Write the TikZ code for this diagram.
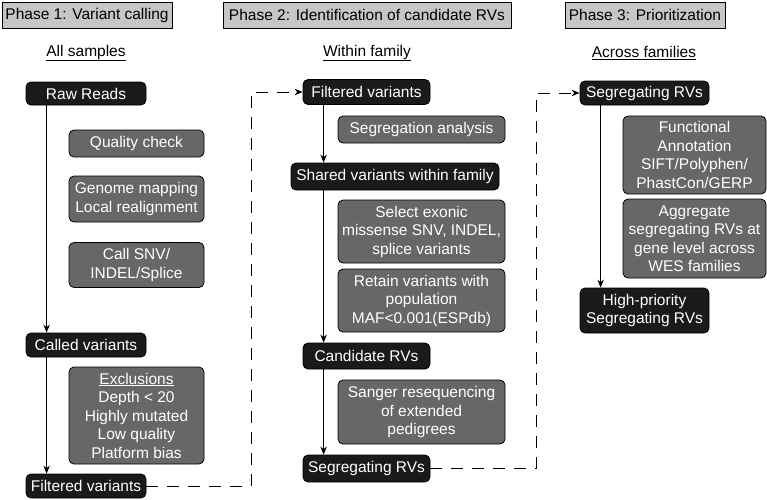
\documentclass[tikz,border=0pt]{standalone}
\usepackage{fontspec}
\setmainfont{Liberation Sans}
\usetikzlibrary{arrows.meta}
\definecolor{hdrgray}{HTML}{C6C6C6}
\definecolor{boxgray}{HTML}{676767}
\definecolor{boxblack}{HTML}{1A1A1A}
\begin{document}
\begin{tikzpicture}[>={Stealth[length=8pt,width=6.5pt]},x=1pt,y=-1pt,
	every node/.style={font=\fontsize{15.5}{18.5}\selectfont,inner sep=0pt,align=center},
	phase/.style={draw,fill=hdrgray,line width=0.9pt},
	blk/.style={draw,fill=boxblack,text=white,rounded corners=5pt,line width=0.8pt},
	gry/.style={draw,fill=boxgray,text=white,rounded corners=5pt,line width=0.8pt},
	flow/.style={->,line width=0.9pt},
	jump/.style={->,line width=0.9pt,dash pattern=on 12pt off 9pt}]
		\useasboundingbox (0,0) rectangle (767,499);
		% phase headers
		\node[phase,minimum width=170pt,minimum height=26pt] (phA) at (87,15) {Phase 1: Variant calling};
		\node[phase,minimum width=288pt,minimum height=26pt] (phB) at (367,15) {Phase 2: Identification of candidate RVs};
		\node[phase,minimum width=160pt,minimum height=26pt] (phC) at (645,15) {Phase 3: Prioritization};
		\node (ttlA) at (86,53) {\underline{All samples}};
		\node (ttlB) at (367,53) {\underline{Within family}};
		\node (ttlC) at (644,53) {\underline{Across families}};
		% phase 1
		\node[blk,minimum width=120pt,minimum height=23pt] (raw) at (86,93.5) {Raw Reads};
		\node[gry,minimum width=135pt,minimum height=27pt] (qc) at (136.5,143.5) {Quality check};
		\node[gry,minimum width=135pt,minimum height=46pt] (gmap) at (136.5,199) {Genome mapping\\Local realignment};
		\node[gry,minimum width=135pt,minimum height=45pt] (vcall) at (136.5,265) {Call SNV/\\INDEL/Splice};
		\node[blk,minimum width=120pt,minimum height=24pt] (called) at (86,345) {Called variants};
		\node[gry,minimum width=135pt,minimum height=97pt] (excl) at (136.5,415.5) {\underline{Exclusions}\\Depth < 20\\Highly mutated\\Low quality\\Platform bias};
		\node[blk,minimum width=120pt,minimum height=24pt] (filtA) at (86,486) {Filtered variants};
		% phase 2
		\node[blk,minimum width=127pt,minimum height=25pt] (filtB) at (366.5,92) {Filtered variants};
		\node[gry,minimum width=167pt,minimum height=27pt] (segan) at (421.5,129.5) {Segregation analysis};
		\node[blk,minimum width=208pt,minimum height=27pt] (shared) at (395,176.5) {Shared variants within family};
		\node[gry,minimum width=167pt,minimum height=63pt] (exonic) at (421.5,231.5) {Select exonic\\missense SNV, INDEL,\\splice variants};
		\node[gry,minimum width=167pt,minimum height=63pt] (maf) at (421.5,300.5) {Retain variants with\\population\\MAF<0.001(ESPdb)};
		\node[blk,minimum width=127pt,minimum height=26pt] (cand) at (366.5,356) {Candidate RVs};
		\node[gry,minimum width=167pt,minimum height=64pt] (sanger) at (421.5,412) {Sanger resequencing\\of extended\\pedigrees};
		\node[blk,minimum width=127pt,minimum height=27pt] (segB) at (366.5,468.5) {Segregating RVs};
		% phase 3
		\node[blk,minimum width=129pt,minimum height=24pt] (segC) at (644.5,93) {Segregating RVs};
		\node[gry,minimum width=143pt,minimum height=78pt] (annot) at (694.5,155) {Functional\\Annotation\\SIFT/Polyphen/\\PhastCon/GERP};
		\node[gry,minimum width=143pt,minimum height=79pt] (aggr) at (694.5,238.5) {Aggregate\\segregating RVs at\\gene level across\\WES families};
		\node[blk,minimum width=129pt,minimum height=45pt] (high) at (644.5,310.5) {High-priority\\Segregating RVs};
		% flow lines
		\draw[flow] ([xshift=21pt]raw.south west) -- ([xshift=21pt]called.north west);
		\draw[flow] ([xshift=21pt]called.south west) -- ([xshift=21pt]filtA.north west);
		\draw[flow] ([xshift=21pt]filtB.south west) -- ([xshift=33pt]shared.north west);
		\draw[flow] ([xshift=33pt]shared.south west) -- ([xshift=21pt]cand.north west);
		\draw[flow] ([xshift=21pt]cand.south west) -- ([xshift=21pt]segB.north west);
		\draw[flow] ([xshift=21pt]segC.south west) -- ([xshift=21pt]high.north west);
		% dashed hand-over between phases
		\coordinate (gapA) at (251,300);
		\coordinate (gapB) at (536,300);
		\draw[jump] (filtA.east) -| (gapA) |- (filtB.west);
		\draw[jump] (segB.east) -| (gapB) |- (segC.west);
\end{tikzpicture}
\end{document}
